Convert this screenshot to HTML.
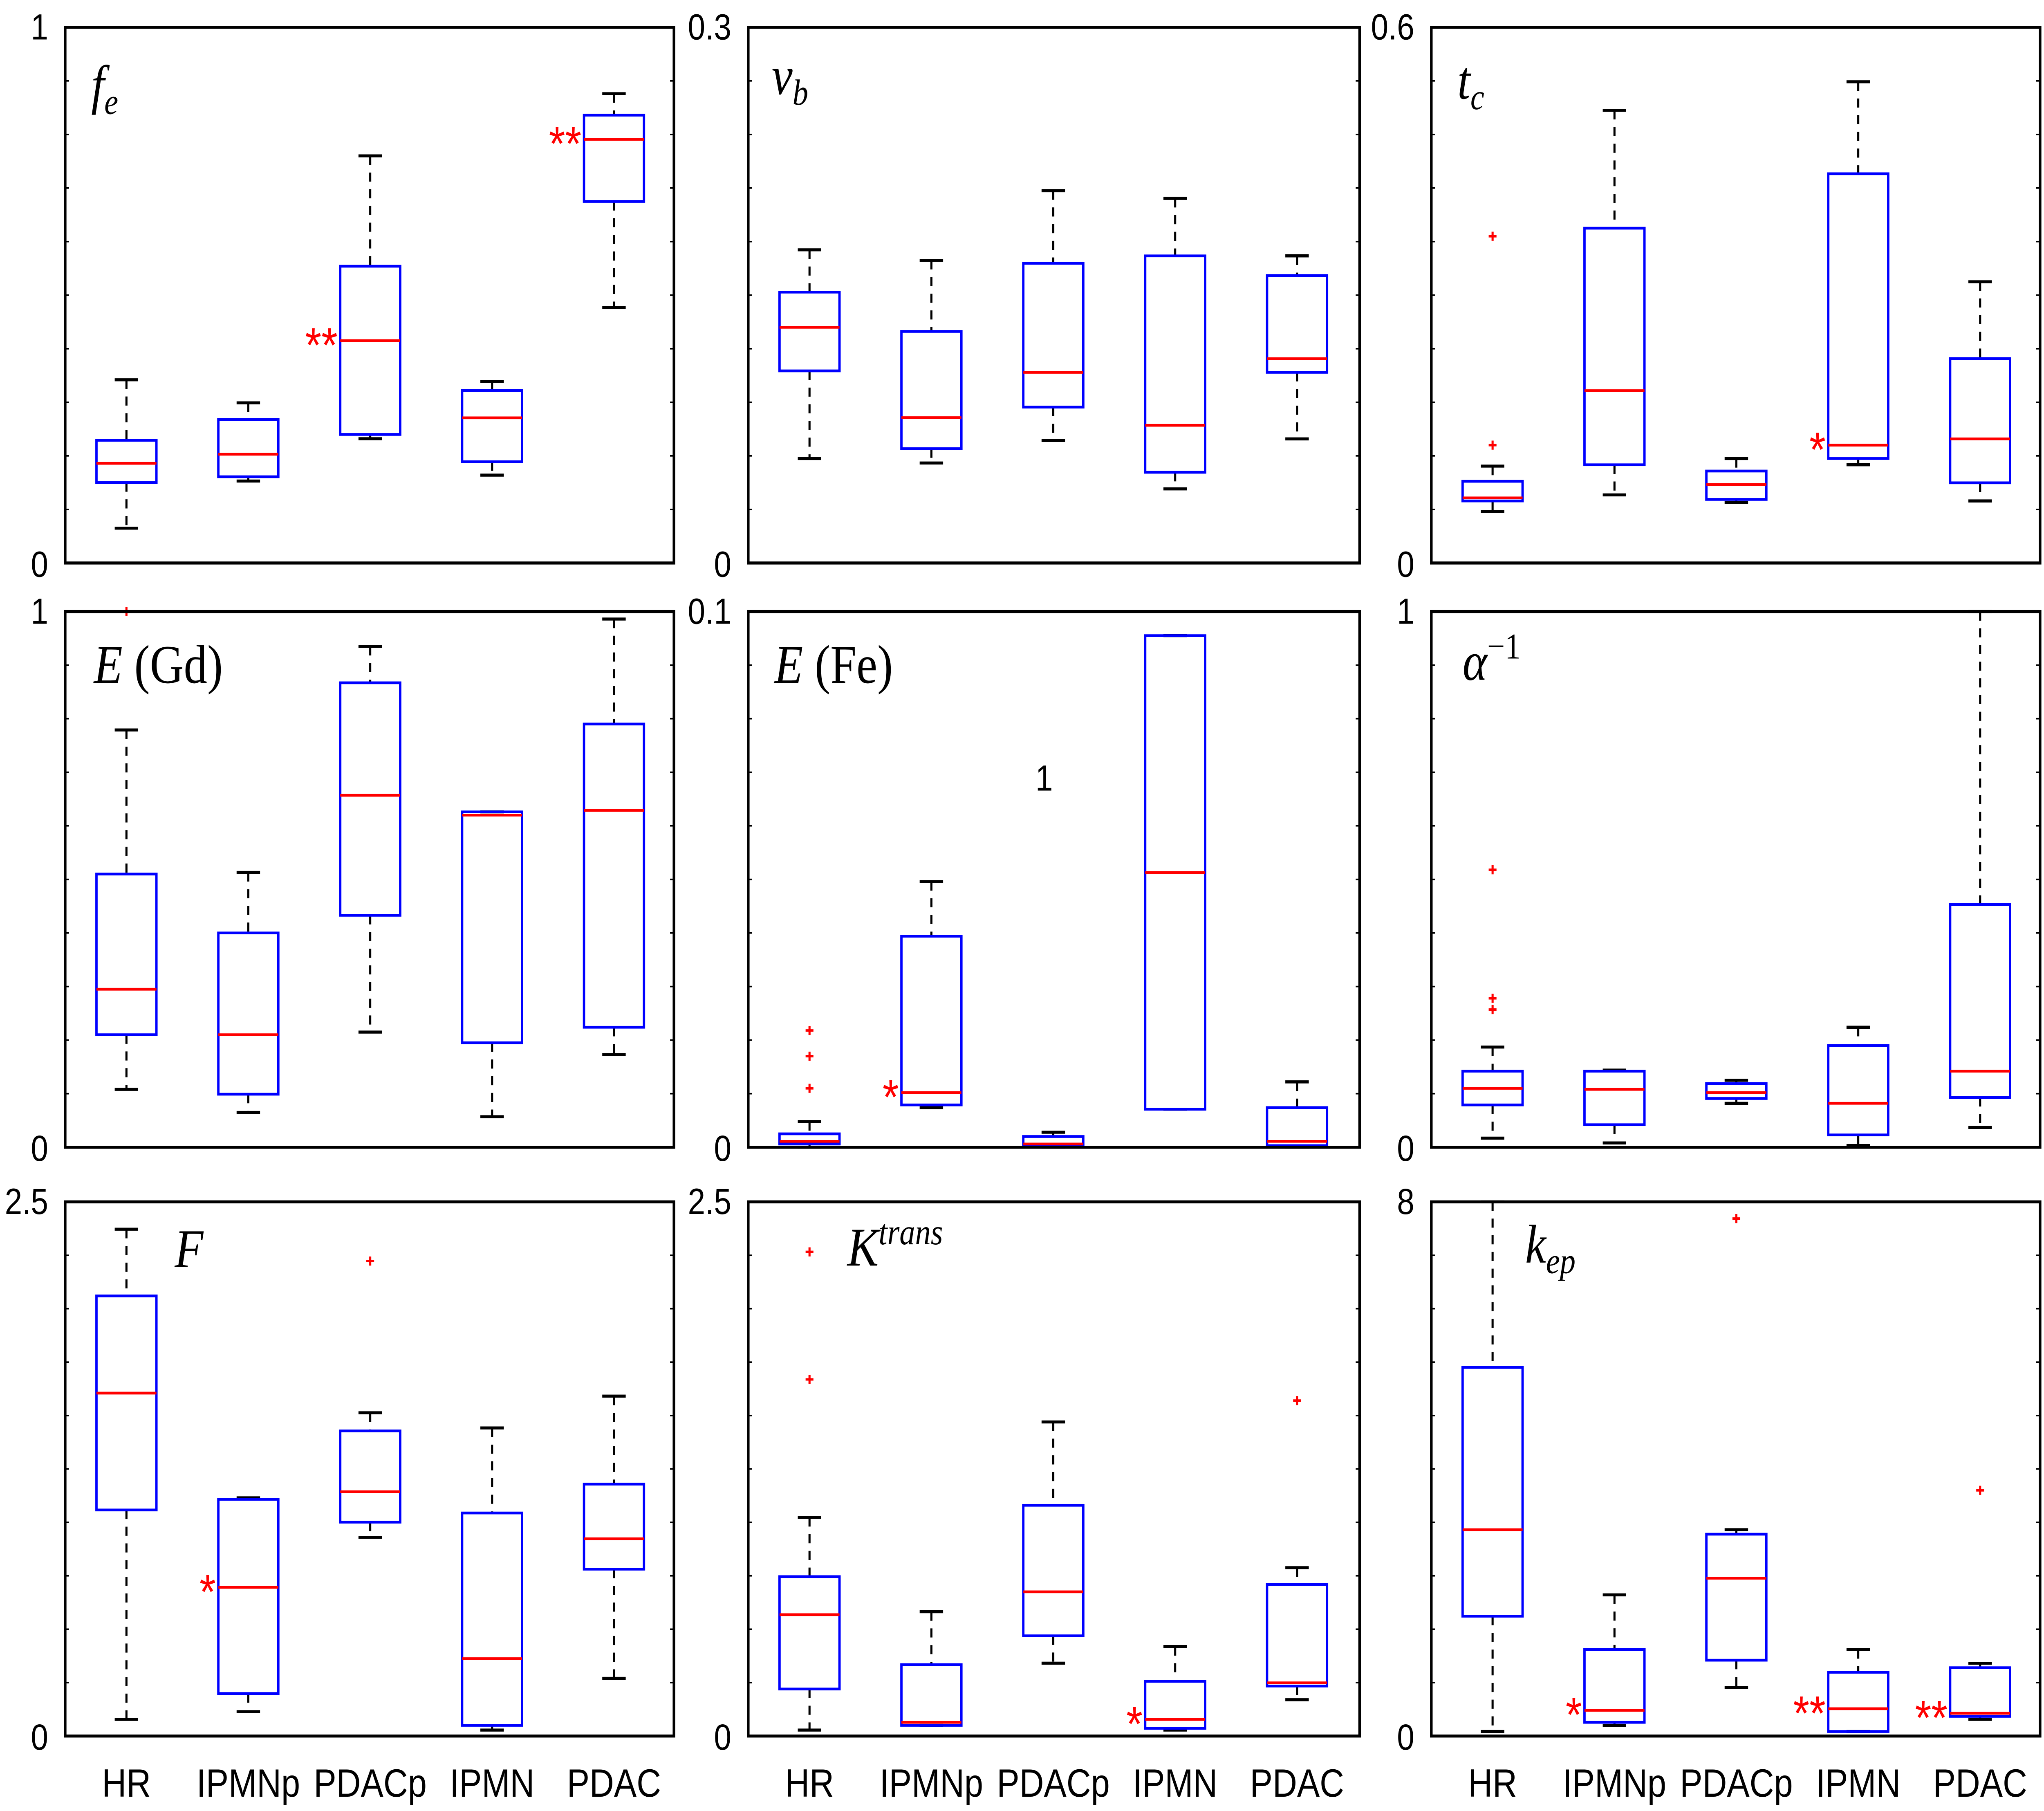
<!DOCTYPE html>
<html><head><meta charset="utf-8"><style>
html,body{margin:0;padding:0;background:#fff;width:100%;height:4429px;overflow:hidden}
svg{display:block;width:100vw;height:4429px}
</style></head><body>
<svg id="chart" xmlns="http://www.w3.org/2000/svg" viewBox="0 0 1568 1193.4" preserveAspectRatio="none"></svg>
<script>
const categories = ["HR","IPMNp","PDACp","IPMN","PDAC"];
// each box: [low whisker, q1, median, q3, high whisker]
const feBoxes = [[0.065,0.15,0.186,0.229,0.342],[0.153,0.161,0.203,0.268,0.299],[0.232,0.24,0.415,0.554,0.76],[0.164,0.189,0.271,0.322,0.339],[0.477,0.675,0.791,0.836,0.876]];
const vbBoxes = [[0.0585,0.1076,0.132,0.1517,0.1754],[0.056,0.064,0.0814,0.1297,0.1695],[0.0686,0.0873,0.1068,0.1678,0.2085],[0.0415,0.0508,0.0771,0.172,0.2042],[0.0695,0.1068,0.1144,0.161,0.172]];
const tcBoxes = [[0.0576,0.0695,0.0729,0.0915,0.1085],[0.0763,0.110,0.193,0.375,0.507],[0.0678,0.0712,0.088,0.103,0.117],[0.110,0.117,0.132,0.436,0.539],[0.0695,0.0898,0.139,0.229,0.315]];
const egdBoxes = [[0.108,0.210,0.295,0.510,0.779],[0.065,0.099,0.21,0.40,0.513],[0.215,0.433,0.657,0.867,0.935],[0.057,0.195,0.620,0.626,0.626],[0.173,0.224,0.629,0.790,0.986]];
const efeBoxes = [[0,0.0006,0.0011,0.0025,0.0048],[0.0074,0.0079,0.0102,0.0394,0.0496],[0,0.0003,0.0006,0.002,0.0028],[0.0071,0.0071,0.0513,0.0955,0.0955],[0,0.0003,0.0011,0.0074,0.0122]];
const alphaBoxes = [[0.017,0.079,0.110,0.142,0.187],[0.008,0.042,0.108,0.142,0.144],[0.082,0.091,0.102,0.119,0.125],[0.003,0.023,0.082,0.190,0.224],[0.037,0.093,0.142,0.453,1.0]];
const fBoxes = [[0.078,1.058,1.605,2.06,2.372],[0.114,0.199,0.696,1.108,1.115],[0.930,1.001,1.143,1.428,1.513],[0.028,0.05,0.362,1.044,1.442],[0.27,0.781,0.923,1.179,1.591]];
const ktransBoxes = [[0.028,0.22,0.568,0.746,1.023],[0.05,0.05,0.064,0.334,0.582],[0.341,0.469,0.675,1.080,1.47],[0.028,0.036,0.078,0.256,0.419],[0.17,0.234,0.249,0.710,0.788]];
const kepBoxes = [[0.068,1.795,3.09,5.52,8.0],[0.159,0.205,0.386,1.295,2.114],[0.727,1.136,2.364,3.023,3.09],[0.068,0.068,0.409,0.955,1.295],[0.25,0.295,0.341,1.023,1.09]];
// outliers: [categoryIndex, value]
const tcOutliers = [[0,0.366],[0,0.132]];
const egdOutliers = [[0,1.0]];
const efeOutliers = [[0,0.0218],[0,0.017],[0,0.011]];
const alphaOutliers = [[0,0.518],[0,0.278],[0,0.257]];
const fOutliers = [[2,2.223]];
const ktransOutliers = [[0,1.669],[0,2.266],[4,1.57]];
const kepOutliers = [[2,7.75],[4,3.68]];
// significance: [categoryIndex, label]
const feStars = [[2,"**"],[4,"**"]];
const tcStars = [[3,"*"]];
const efeStars = [[1,"*"]];
const fStars = [[1,"*"]];
const ktransStars = [[3,"*"]];
const kepStars = [[1,"*"],[3,"**"],[4,"**"]];
const yMaxes = [1,0.3,0.6,1,0.1,1,2.5,2.5,8];
const yTopLabels = ["1","0.3","0.6","1","0.1","1","2.5","2.5","8"];

const NS="http://www.w3.org/2000/svg";
const svg=document.getElementById('chart');
function mk(tag,attrs,parent){const e=document.createElementNS(NS,tag);for(const k in attrs)e.setAttribute(k,attrs[k]);(parent||svg).appendChild(e);return e;}
const lefts=[50,574,1098], rights=[517,1043,1565], tops=[18,403,792], bottoms=[371,756,1144];
const panels=[
 {id:"fe",boxes:feBoxes,out:[],stars:feStars},
 {id:"vb",boxes:vbBoxes,out:[],stars:[]},
 {id:"tc",boxes:tcBoxes,out:tcOutliers,stars:tcStars},
 {id:"e-gd",boxes:egdBoxes,out:egdOutliers,stars:[]},
 {id:"e-fe",boxes:efeBoxes,out:efeOutliers,stars:efeStars},
 {id:"alpha-inv",boxes:alphaBoxes,out:alphaOutliers,stars:[]},
 {id:"f",boxes:fBoxes,out:fOutliers,stars:fStars},
 {id:"ktrans",boxes:ktransBoxes,out:ktransOutliers,stars:ktransStars},
 {id:"kep",boxes:kepBoxes,out:kepOutliers,stars:kepStars}
];
const titles=[
 '<tspan font-style="italic">f</tspan><tspan font-style="italic" font-size="24" dy="7">e</tspan>',
 '<tspan font-style="italic">v</tspan><tspan font-style="italic" font-size="24" dy="7">b</tspan>',
 '<tspan font-style="italic">t</tspan><tspan font-style="italic" font-size="24" dy="7">c</tspan>',
 '<tspan font-style="italic">E</tspan> (Gd)',
 '<tspan font-style="italic">E</tspan> (Fe)',
 '<tspan font-style="italic">α</tspan><tspan font-size="24" dy="-14">−1</tspan>',
 '<tspan font-style="italic">F</tspan>',
 '<tspan font-style="italic">K</tspan><tspan font-style="italic" font-size="24" dy="-14">trans</tspan>',
 '<tspan font-style="italic">k</tspan><tspan font-style="italic" font-size="24" dy="7">ep</tspan>'
];
const titlePos=[[70,68],[592,62],[1118,65],[72,450],[594,450],[1122,448],[134,835],[650,834],[1170,832]];
panels.forEach((p,i)=>{
  const r=Math.floor(i/3), c=i%3;
  const L=lefts[c],R=rights[c],T=tops[r],B=bottoms[r];
  const g=mk('g',{});
  
  
  const ymax=yMaxes[i];
  const y=v=>B-(v/ymax)*(B-T);
  const x=k=>L+47+k*93.5;
  for(let t=1;t<10;t++){const yy=T+(B-T)*t/10;
    mk('line',{x1:L,x2:L+3,y1:yy,y2:yy,stroke:'#000','stroke-width':1},g);
    mk('line',{x1:R-3,x2:R,y1:yy,y2:yy,stroke:'#000','stroke-width':1},g);}
  p.boxes.forEach((b,k)=>{
    const cx=x(k), hw=23;
    const bg=mk('g',{},g);
    
    
    mk('line',{x1:cx,x2:cx,y1:y(b[4]),y2:y(b[3]),stroke:'#000','stroke-width':1.6,'stroke-dasharray':'6,5'},bg);
    mk('line',{x1:cx,x2:cx,y1:y(b[1]),y2:y(b[0]),stroke:'#000','stroke-width':1.6,'stroke-dasharray':'6,5'},bg);
    mk('line',{x1:cx-9,x2:cx+9,y1:y(b[4]),y2:y(b[4]),stroke:'#000','stroke-width':2},bg);
    mk('line',{x1:cx-9,x2:cx+9,y1:y(b[0]),y2:y(b[0]),stroke:'#000','stroke-width':2},bg);
    mk('rect',{x:cx-hw,y:y(b[3]),width:2*hw,height:Math.max(0.5,y(b[1])-y(b[3])),fill:'none',stroke:'#0000ff','stroke-width':1.8},bg);
    mk('line',{x1:cx-hw,x2:cx+hw,y1:y(b[2]),y2:y(b[2]),stroke:'#ff0000','stroke-width':1.8},bg);
  });
  p.out.forEach(o=>{const cx=x(o[0]),yy=y(o[1]);
    const e=mk('path',{d:`M${cx-3},${yy}H${cx+3}M${cx},${yy-3}V${yy+3}`,stroke:'#ff0000','stroke-width':1.6},g);
    
    });
  p.stars.forEach(s=>{const cx=x(s[0])-25,yy=y(p.boxes[s[0]][2]);
    const e=mk('text',{x:cx,y:yy+14,'text-anchor':'end','font-family':'Liberation Sans, sans-serif','font-size':32,fill:'#ff0000'},g);
    e.textContent=s[1];
    
    });
  const fr=mk('rect',{x:L,y:T,width:R-L,height:B-T,fill:'none',stroke:'#000','stroke-width':2},g);
  
  
  const t=mk('text',{x:titlePos[i][0],y:titlePos[i][1],'font-family':'Liberation Serif, serif','font-size':36},g);
  t.innerHTML=titles[i];
  
  
  const yt=mk('text',{x:L-13,y:T+8,'text-anchor':'end','font-family':'Liberation Sans, sans-serif','font-size':24},g);
  yt.textContent=yTopLabels[i];
  
  
  const y0=mk('text',{x:L-13,y:B+9,'text-anchor':'end','font-family':'Liberation Sans, sans-serif','font-size':24},g);
  y0.textContent="0";
  
  
  if(r===2){categories.forEach((cn,k)=>{
    const e=mk('text',{x:x(k),y:1184,'text-anchor':'middle','font-family':'Liberation Sans, sans-serif','font-size':26},g);
    e.textContent=cn;
    
    });}
});
const one=mk('text',{x:801,y:521,'text-anchor':'middle','font-family':'Liberation Sans, sans-serif','font-size':24});
one.textContent="1";


</script>
</body></html>
